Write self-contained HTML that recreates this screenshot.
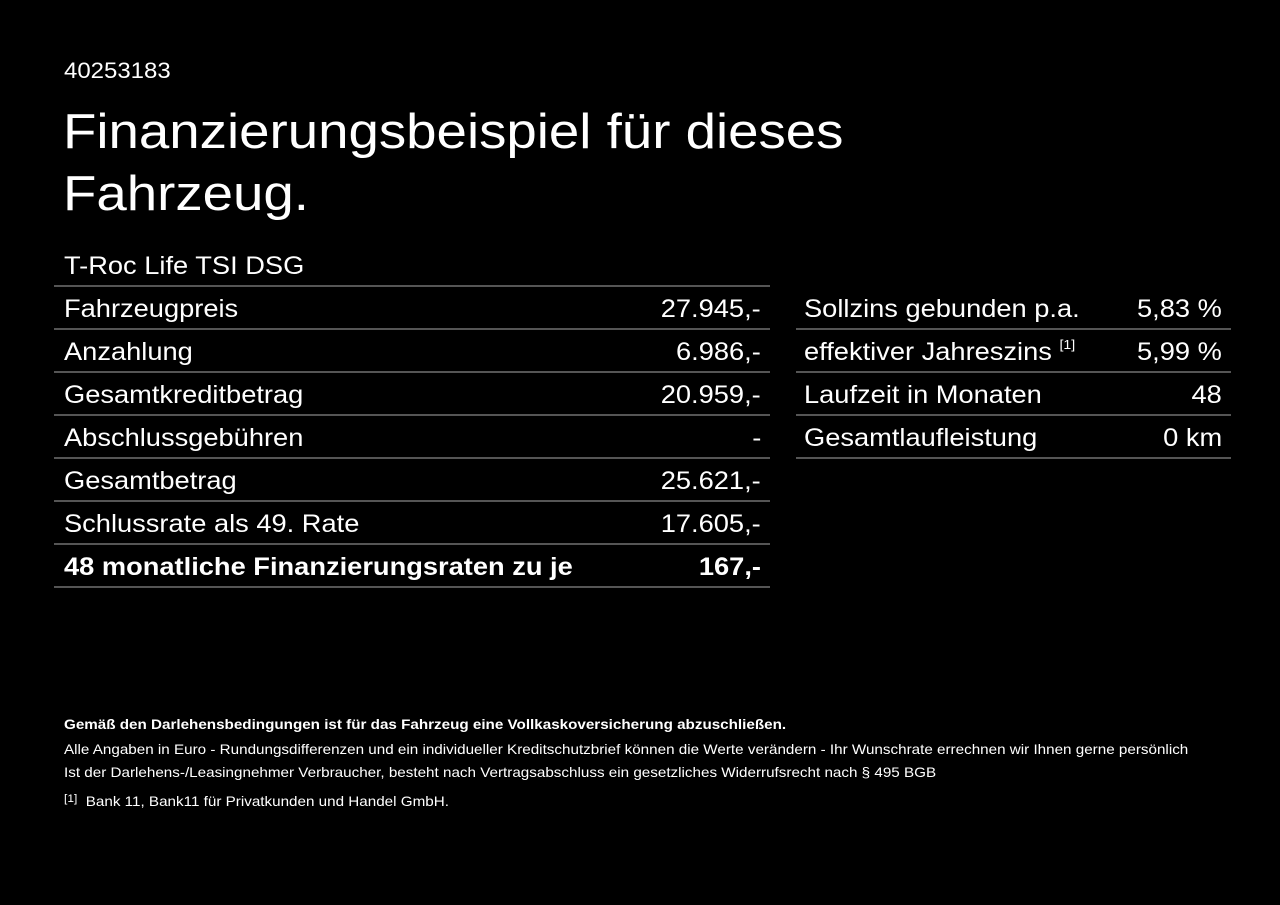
<!DOCTYPE html>
<html><head><meta charset="utf-8"><style>
html,body{margin:0;padding:0;background:#000;}
body{width:1280px;height:905px;position:relative;overflow:hidden;color:#fff;font-family:"Liberation Sans",Arial,sans-serif;}
.a{position:absolute;white-space:nowrap;transform:scaleX(1.09);transform-origin:left top;}
.row{position:absolute;height:43px;border-bottom:2px solid #555;box-sizing:border-box;font-size:25px;line-height:45px;}
.row .l{position:absolute;left:10px;top:0;transform:scaleX(1.09);transform-origin:left top;white-space:nowrap;}
.row .r{position:absolute;right:9px;top:0;transform:scaleX(1.09);transform-origin:right top;white-space:nowrap;}
sup{font-size:13px;vertical-align:top;position:relative;top:-8px;}
</style></head><body>
<div class="a" style="left:64px;top:58px;font-size:22px;">40253183</div>
<div class="a" style="left:63px;top:101px;font-size:49px;line-height:62px;transform:scaleX(1.115);">Finanzierungsbeispiel für dieses<br>Fahrzeug.</div>
<div class="a" style="left:64px;top:252px;font-size:25px;">T-Roc Life TSI DSG</div>
<div style="position:absolute;left:54px;top:285px;width:716px;border-top:2px solid #555;"></div>
<div class="row" style="left:54px;width:716px;top:287px;"><span class="l">Fahrzeugpreis</span><span class="r">27.945,-</span></div>
<div class="row" style="left:54px;width:716px;top:330px;"><span class="l">Anzahlung</span><span class="r">6.986,-</span></div>
<div class="row" style="left:54px;width:716px;top:373px;"><span class="l">Gesamtkreditbetrag</span><span class="r">20.959,-</span></div>
<div class="row" style="left:54px;width:716px;top:416px;"><span class="l">Abschlussgebühren</span><span class="r">-</span></div>
<div class="row" style="left:54px;width:716px;top:459px;"><span class="l">Gesamtbetrag</span><span class="r">25.621,-</span></div>
<div class="row" style="left:54px;width:716px;top:502px;"><span class="l">Schlussrate als 49. Rate</span><span class="r">17.605,-</span></div>
<div class="row" style="left:54px;width:716px;top:545px;font-weight:bold;"><span class="l">48 monatliche Finanzierungsraten zu je</span><span class="r">167,-</span></div>
<div class="row" style="left:796px;width:435px;top:287px;"><span class="l" style="left:8px">Sollzins gebunden p.a.</span><span class="r">5,83 %</span></div>
<div class="row" style="left:796px;width:435px;top:330px;"><span class="l" style="left:8px">effektiver Jahreszins <sup>[1]</sup></span><span class="r">5,99 %</span></div>
<div class="row" style="left:796px;width:435px;top:373px;"><span class="l" style="left:8px">Laufzeit in Monaten</span><span class="r">48</span></div>
<div class="row" style="left:796px;width:435px;top:416px;"><span class="l" style="left:8px">Gesamtlaufleistung</span><span class="r">0 km</span></div>
<div class="a" style="left:64px;top:716px;font-size:14px;font-weight:bold;transform:scaleX(1.086);">Gemäß den Darlehensbedingungen ist für das Fahrzeug eine Vollkaskoversicherung abzuschließen.</div>
<div class="a" style="left:64px;top:741px;font-size:14px;transform:scaleX(1.087);">Alle Angaben in Euro - Rundungsdifferenzen und ein individueller Kreditschutzbrief können die Werte verändern - Ihr Wunschrate errechnen wir Ihnen gerne persönlich</div>
<div class="a" style="left:64px;top:764px;font-size:14px;transform:scaleX(1.087);">Ist der Darlehens-/Leasingnehmer Verbraucher, besteht nach Vertragsabschluss ein gesetzliches Widerrufsrecht nach § 495 BGB</div>
<div class="a" style="left:64px;top:793px;font-size:14px;transform:scaleX(1.087);"><span style="font-size:11px;vertical-align:top;">[1]</span>&nbsp; Bank 11, Bank11 für Privatkunden und Handel GmbH.</div>
</body></html>
